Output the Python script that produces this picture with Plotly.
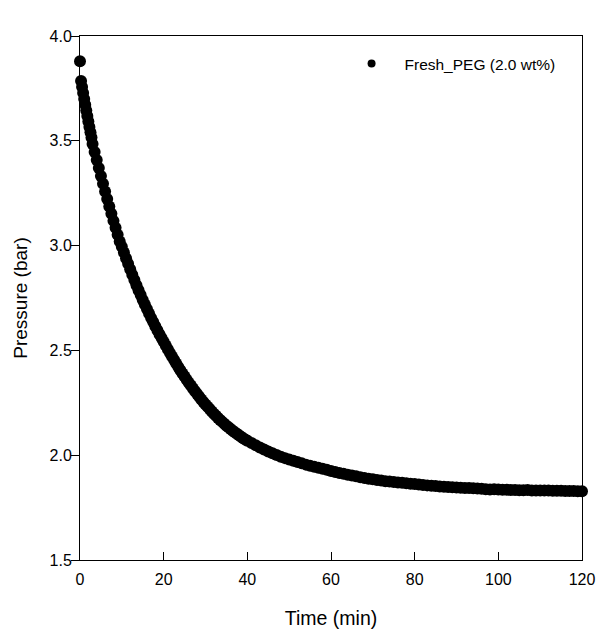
import plotly.graph_objects as go

# time (min) and pressure (bar)
time_min = [
    0, 0.25, 0.5, 0.75, 1.0, 1.25, 1.5, 1.75, 2.0, 2.25, 2.5, 2.75, 3.0,
    3.5, 4.0, 4.5, 5.0, 5.5, 6.0, 6.5, 7.0, 7.5, 8.0, 8.5, 9.0, 9.5, 10.0,
    10.5, 11.0, 11.5, 12.0, 12.5, 13.0, 13.5, 14.0, 14.5, 15.0, 15.5, 16.0,
    16.5, 17.0, 17.5, 18.0, 18.5, 19.0, 19.5, 20.0,
    20.5, 21.0, 21.5, 22.0, 22.5, 23.0, 23.5, 24.0, 24.5, 25.0, 25.5, 26.0,
    26.5, 27.0, 27.5, 28.0, 28.5, 29.0, 29.5, 30.0, 30.5, 31.0, 31.5, 32.0,
    32.5, 33.0, 33.5, 34.0, 34.5, 35.0, 35.5, 36.0, 36.5, 37.0, 37.5, 38.0,
    38.5, 39.0, 39.5, 40.0,
    41, 42, 43, 44, 45, 46, 47, 48, 49, 50, 51, 52, 53, 54, 55, 56,
    57, 58, 59, 60, 61, 62, 63, 64, 65, 66, 67, 68, 69, 70, 71, 72, 73, 74,
    75, 76, 77, 78, 79, 80, 81, 82, 83, 84, 85, 86, 87, 88, 89, 90, 91, 92,
    93, 94, 95, 96, 97, 98, 99, 100, 101, 102, 103, 104, 105, 106, 107, 108,
    109, 110, 111, 112, 113, 114, 115, 116, 117, 118, 119, 120,
]
pressure_bar = [
    3.880, 3.785, 3.757, 3.728, 3.700, 3.672, 3.645, 3.618, 3.592, 3.566, 3.541, 3.516, 3.485,
    3.447, 3.408, 3.370, 3.332, 3.295, 3.258, 3.222, 3.187, 3.152, 3.118, 3.085, 3.052, 3.020, 2.995,
    2.967, 2.940, 2.913, 2.887, 2.861, 2.836, 2.811, 2.787, 2.764, 2.741, 2.719, 2.697,
    2.676, 2.655, 2.635, 2.615, 2.596, 2.577, 2.559, 2.541,
    2.523, 2.506, 2.488, 2.471, 2.454, 2.437, 2.421, 2.405, 2.390, 2.375, 2.360, 2.346,
    2.332, 2.318, 2.305, 2.292, 2.279, 2.266, 2.254, 2.242, 2.231, 2.220, 2.209, 2.198,
    2.188, 2.178, 2.168, 2.159, 2.150, 2.141, 2.133, 2.125, 2.117, 2.109, 2.102, 2.095,
    2.088, 2.081, 2.075, 2.069,
    2.058, 2.047, 2.037, 2.027, 2.018, 2.009, 2.001, 1.993,
    1.986, 1.980, 1.973, 1.967, 1.961, 1.955, 1.950, 1.945, 1.940, 1.935, 1.930, 1.925, 1.920, 1.915,
    1.911, 1.907, 1.903, 1.899, 1.895, 1.891, 1.888, 1.885, 1.882, 1.879, 1.876, 1.874, 1.872, 1.870,
    1.868, 1.866, 1.864, 1.862, 1.860, 1.858, 1.856, 1.854, 1.853, 1.851, 1.850, 1.848, 1.847, 1.846,
    1.845, 1.844, 1.843, 1.842, 1.841, 1.840, 1.837, 1.836, 1.837, 1.836, 1.835, 1.835, 1.834, 1.834,
    1.833, 1.833, 1.834, 1.832, 1.832, 1.831, 1.831, 1.831, 1.830, 1.830, 1.830, 1.829, 1.829, 1.829,
    1.828, 1.828, 1.828, 1.827, 1.827, 1.826,
]

series_name = "\u00a0\u00a0\u00a0Fresh_PEG (2.0 wt%)"
font_family = "Liberation Sans, Arial, sans-serif"

fig = go.Figure()

# the measured points, drawn as overlapping black dots
fig.add_trace(go.Scatter(
    x=time_min,
    y=pressure_bar,
    mode="markers",
    marker=dict(color="black", size=12),
    cliponaxis=False,
    showlegend=False,
))

# legend entry only (smaller symbol, as in the original)
fig.add_trace(go.Scatter(
    x=[None],
    y=[None],
    mode="markers",
    marker=dict(color="black", size=8),
    name=series_name,
))

# the page body adds 8px around the figure, so margins are shifted to match
fig.update_layout(
    width=614,
    height=638,
    margin=dict(l=70, r=40, t=28, b=86),
    paper_bgcolor="white",
    plot_bgcolor="white",
    font=dict(family=font_family, size=16, color="black"),
    legend=dict(
        x=0.541, y=0.979, xanchor="left", yanchor="top",
        bgcolor="rgba(0,0,0,0)",
        font=dict(size=15.5),
    ),
)

fig.update_xaxes(
    range=[0, 120],
    dtick=20,
    ticks="inside",
    ticklen=8,
    tickcolor="black",
    ticklabelstandoff=5,
    showline=True,
    linecolor="black",
    linewidth=1,
    mirror=True,
    showgrid=False,
    zeroline=False,
    title=dict(text="Time (min)", font=dict(size=19.5), standoff=24),
)

fig.update_yaxes(
    range=[1.5, 4.0],
    dtick=0.5,
    tickformat=".1f",
    ticks="outside",
    ticklen=8,
    tickcolor="black",
    ticklabelstandoff=-4,
    showline=True,
    linecolor="black",
    linewidth=1,
    mirror=True,
    showgrid=False,
    zeroline=False,
    title=dict(text="Pressure (bar)", font=dict(size=19), standoff=16),
)

fig.write_html("out.html")
